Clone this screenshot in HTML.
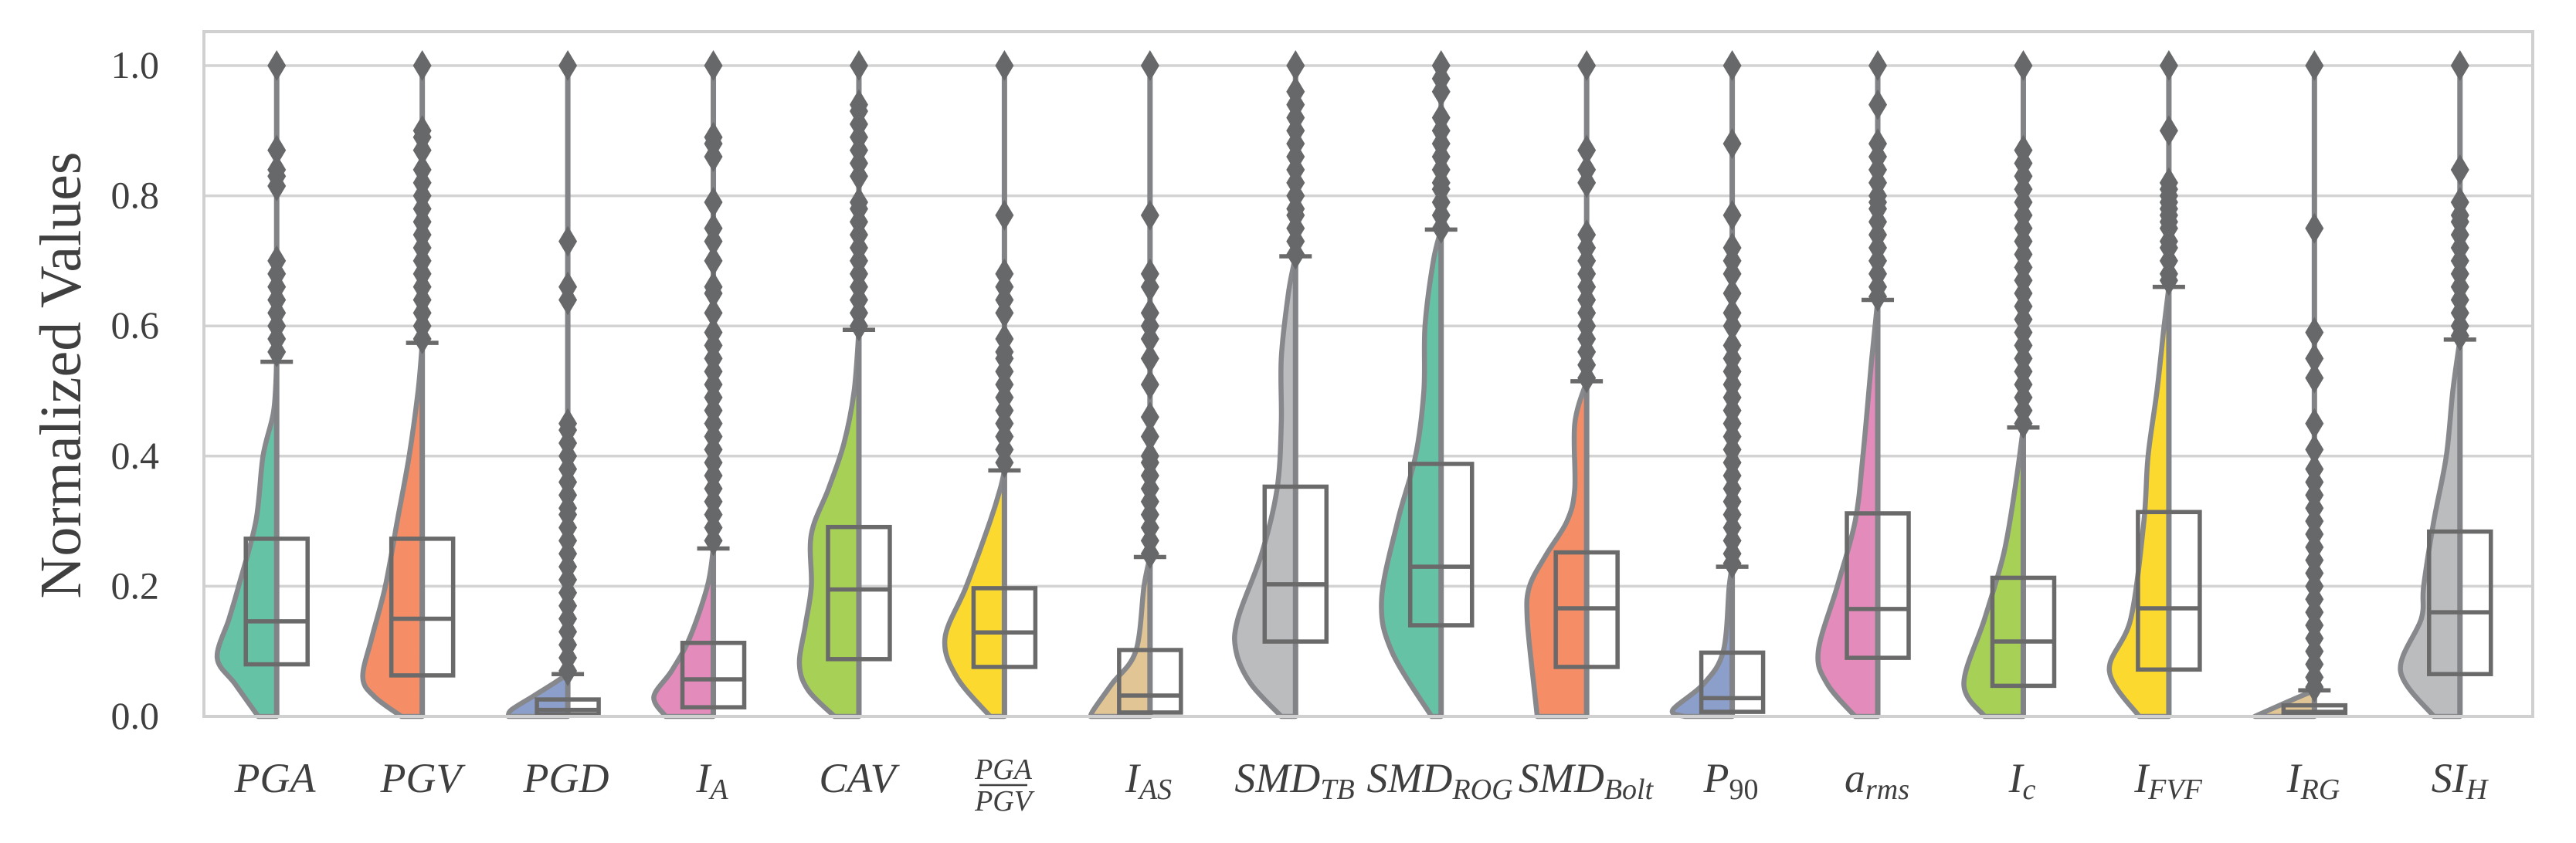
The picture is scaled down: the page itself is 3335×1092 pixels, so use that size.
<!DOCTYPE html>
<html><head><meta charset="utf-8">
<style>
html,body{margin:0;padding:0;background:#fff;}
svg{display:block;}
text{font-family:"Liberation Serif",serif;fill:#3f3f3f;}
</style></head>
<body>
<svg id="chart" width="3335" height="1092" viewBox="0 0 3335 1092" xmlns="http://www.w3.org/2000/svg">
<rect x="0" y="0" width="3335" height="1092" fill="#fff"/>
<g id="grid"></g>
<g id="marks"></g>
<rect x="264" y="41" width="3015" height="887" fill="none" stroke="#d0d0d0" stroke-width="4"/>
<g id="yticks"></g>
<text transform="translate(104,486) rotate(-90)" text-anchor="middle" font-size="76">Normalized Values</text>
<g id="xlabels" font-style="italic" font-size="54" text-anchor="middle">
  <text x="356" y="1026">PGA</text>
  <text x="545" y="1026">PGV</text>
  <text x="733" y="1026">PGD</text>
  <text x="922" y="1026">I<tspan font-size="38" dy="9">A</tspan></text>
  <text x="1110" y="1026">CAV</text>
  <g>
    <text x="1299" y="1009" font-size="38">PGA</text>
    <line x1="1268" y1="1017" x2="1330" y2="1017" stroke="#3f3f3f" stroke-width="2.5"/>
    <text x="1299" y="1050" font-size="38">PGV</text>
  </g>
  <text x="1487" y="1026">I<tspan font-size="38" dy="9">AS</tspan></text>
  <text x="1676" y="1026">SMD<tspan font-size="38" dy="9">TB</tspan></text>
  <text x="1864" y="1026">SMD<tspan font-size="38" dy="9">ROG</tspan></text>
  <text x="2053" y="1026">SMD<tspan font-size="38" dy="9">Bolt</tspan></text>
  <text x="2241" y="1026">P<tspan font-size="38" font-style="normal" dy="9">90</tspan></text>
  <text x="2430" y="1026">a<tspan font-size="38" dy="9">rms</tspan></text>
  <text x="2618" y="1026">I<tspan font-size="38" dy="9">c</tspan></text>
  <text x="2807" y="1026">I<tspan font-size="38" dy="9">FVF</tspan></text>
  <text x="2995" y="1026">I<tspan font-size="38" dy="9">RG</tspan></text>
  <text x="3184" y="1026">SI<tspan font-size="38" dy="9">H</tspan></text>
</g>
</svg>
<script>
const categories = ["PGA","PGV","PGD","IA","CAV","PGA/PGV","IAS","SMD_TB","SMD_ROG","SMD_Bolt","P90","a_rms","Ic","IFVF","IRG","SIH"];
const q1Values = [0.080,0.063,0.003,0.014,0.088,0.076,0.006,0.115,0.140,0.076,0.007,0.090,0.047,0.072,0.002,0.065];
const medianValues = [0.146,0.150,0.010,0.057,0.195,0.129,0.032,0.203,0.230,0.166,0.028,0.165,0.115,0.166,0.007,0.160];
const q3Values = [0.273,0.273,0.026,0.113,0.291,0.197,0.102,0.353,0.388,0.252,0.098,0.312,0.213,0.314,0.017,0.284];
const whiskerHigh = [0.545,0.574,0.065,0.258,0.594,0.378,0.245,0.707,0.748,0.515,0.230,0.640,0.444,0.660,0.040,0.579];
const fillColors = ["#66c2a5","#f58e66","#8c9fcb","#e38bba","#a7d057","#fbd92f","#e2c594","#bbbcbe","#66c2a5","#f58e66","#8c9fcb","#e38bba","#a7d057","#fbd92f","#e2c594","#bbbcbe"];
const densityLevels = [
 [0,0.05,0.09,0.15,0.2,0.3,0.4,0.47,0.545],
 [0,0.03,0.06,0.12,0.2,0.3,0.4,0.5,0.574],
 [0,0.01,0.03,0.05,0.065],
 [0,0.03,0.07,0.12,0.2,0.258],
 [0,0.04,0.08,0.14,0.2,0.28,0.35,0.42,0.5,0.594],
 [0,0.06,0.12,0.2,0.3,0.35,0.378],
 [0,0.01,0.05,0.1,0.2,0.245],
 [0,0.05,0.1,0.15,0.25,0.35,0.45,0.55,0.65,0.707],
 [0,0.1,0.18,0.3,0.4,0.5,0.6,0.7,0.748],
 [0,0.05,0.15,0.2,0.25,0.3,0.35,0.45,0.515],
 [0,0.01,0.05,0.1,0.2,0.23],
 [0,0.05,0.1,0.2,0.3,0.4,0.55,0.64],
 [0,0.05,0.15,0.25,0.35,0.444],
 [0,0.07,0.15,0.3,0.4,0.5,0.6,0.66],
 [0,0.02,0.04],
 [0,0.07,0.15,0.2,0.3,0.4,0.5,0.579]
];
const densityWidths = [
 [0.31,0.7,1.0,0.8,0.64,0.35,0.23,0.05,0],
 [0.35,0.8,1.0,0.85,0.62,0.42,0.22,0.07,0],
 [1.0,0.95,0.6,0.25,0],
 [0.8,1.0,0.7,0.4,0.1,0],
 [0.41,0.85,1.0,0.9,0.8,0.8,0.51,0.25,0.08,0],
 [0.24,0.8,1.0,0.64,0.24,0.07,0],
 [1.0,0.95,0.64,0.24,0.1,0],
 [0.24,0.75,1.0,0.97,0.57,0.31,0.24,0.24,0.12,0],
 [0.16,0.83,1.0,0.73,0.43,0.29,0.27,0.13,0],
 [0.83,0.89,1.0,0.96,0.67,0.33,0.2,0.2,0],
 [0.8,1.0,0.48,0.15,0.05,0],
 [0.38,0.85,1.0,0.68,0.38,0.25,0.1,0],
 [0.65,1.0,0.65,0.33,0.14,0],
 [0.5,1.0,0.64,0.42,0.35,0.2,0.08,0],
 [1.0,0.51,0],
 [0.44,1.0,0.65,0.61,0.44,0.23,0.12,0]
];
const outlierValues = [
 [0.56,0.58,0.60,0.62,0.64,0.66,0.68,0.70,0.815,0.83,0.84,0.87,1.0],
 [0.58,0.60,0.62,0.64,0.66,0.68,0.70,0.72,0.74,0.76,0.78,0.80,0.82,0.84,0.87,0.89,0.90,1.0],
 [0.07,0.09,0.11,0.13,0.15,0.17,0.19,0.21,0.23,0.25,0.27,0.29,0.31,0.32,0.34,0.36,0.38,0.40,0.42,0.44,0.45,0.64,0.66,0.73,1.0],
 [0.27,0.29,0.31,0.33,0.35,0.37,0.39,0.41,0.43,0.45,0.47,0.49,0.51,0.53,0.55,0.57,0.59,0.62,0.65,0.66,0.70,0.73,0.75,0.79,0.86,0.88,0.89,1.0],
 [0.60,0.62,0.64,0.66,0.68,0.70,0.72,0.74,0.76,0.78,0.79,0.83,0.85,0.87,0.89,0.91,0.93,0.94,1.0],
 [0.39,0.41,0.43,0.45,0.47,0.49,0.51,0.53,0.55,0.56,0.58,0.62,0.64,0.66,0.68,0.77,1.0],
 [0.25,0.27,0.29,0.31,0.33,0.35,0.37,0.39,0.40,0.43,0.46,0.51,0.55,0.58,0.60,0.62,0.66,0.68,0.77,1.0],
 [0.71,0.73,0.75,0.77,0.78,0.80,0.82,0.84,0.86,0.88,0.90,0.92,0.94,0.96,1.0],
 [0.75,0.77,0.79,0.81,0.82,0.84,0.86,0.88,0.90,0.92,0.96,0.98,1.0],
 [0.52,0.54,0.56,0.58,0.60,0.62,0.64,0.66,0.68,0.70,0.72,0.74,0.82,0.84,0.87,1.0],
 [0.235,0.25,0.27,0.29,0.31,0.33,0.35,0.37,0.39,0.41,0.43,0.45,0.47,0.49,0.51,0.53,0.55,0.57,0.60,0.62,0.65,0.68,0.70,0.72,0.77,0.88,1.0],
 [0.645,0.66,0.68,0.70,0.72,0.74,0.76,0.78,0.79,0.80,0.82,0.84,0.86,0.88,0.94,1.0],
 [0.45,0.47,0.49,0.51,0.53,0.55,0.57,0.59,0.61,0.63,0.65,0.67,0.69,0.71,0.73,0.75,0.77,0.79,0.81,0.83,0.85,0.87,1.0],
 [0.67,0.68,0.70,0.72,0.73,0.75,0.76,0.77,0.78,0.79,0.80,0.81,0.82,0.90,1.0],
 [0.045,0.06,0.08,0.10,0.12,0.14,0.16,0.18,0.20,0.22,0.24,0.26,0.28,0.30,0.32,0.34,0.36,0.38,0.41,0.45,0.52,0.55,0.59,0.75,1.0],
 [0.585,0.60,0.62,0.64,0.66,0.68,0.70,0.72,0.74,0.76,0.77,0.79,0.84,1.0]
];
const yTicks = [0,0.2,0.4,0.6,0.8,1.0];
const yTickLabels = ["0.0","0.2","0.4","0.6","0.8","1.0"];

const NS = "http://www.w3.org/2000/svg";
const plotL = 264, plotR = 3279, y0px = 928, y1px = 85;
const band = (plotR - plotL) / categories.length;
const maxHalf = 77, boxHalf = 40, capHalf = 21;
function yScale(v){ return y0px - v * (y0px - y1px); }
function xScale(i){ return plotL + (i + 0.5) * band; }
function mk(tag, attrs, parent){
  const el = document.createElementNS(NS, tag);
  for (const k in attrs) el.setAttribute(k, attrs[k]);
  parent.appendChild(el);
  return el;
}
const grid = document.getElementById("grid");
const yt = document.getElementById("yticks");
yTicks.forEach((t, i) => {
  if (t > 0) {
    const gl = mk("line", {x1: plotL, x2: plotR, y1: yScale(t), y2: yScale(t), stroke: "#d3d3d3", "stroke-width": 3.5}, grid);
    
    
  }
  const tx = mk("text", {x: 206, y: yScale(t) + 16, "text-anchor": "end", "font-size": 50}, yt);
  tx.textContent = yTickLabels[i];
  
  
});
function smoothPath(pts){
  let d = "";
  for (let i = 0; i < pts.length - 1; i++) {
    const p0 = pts[Math.max(0, i - 1)], p1 = pts[i], p2 = pts[i + 1], p3 = pts[Math.min(pts.length - 1, i + 2)];
    const c1x = p1[0] + (p2[0] - p0[0]) / 6, c1y = p1[1] + (p2[1] - p0[1]) / 6;
    const c2x = p2[0] - (p3[0] - p1[0]) / 6, c2y = p2[1] - (p3[1] - p1[1]) / 6;
    d += " C" + c1x.toFixed(1) + "," + c1y.toFixed(1) + " " + c2x.toFixed(1) + "," + c2y.toFixed(1) + " " + p2[0].toFixed(1) + "," + p2[1].toFixed(1);
  }
  return d;
}
const marks = document.getElementById("marks");
categories.forEach((c, i) => {
  const cx = xScale(i);
  const g = mk("g", {}, marks);
  
  
  const pts = densityLevels[i].map((v, k) => [cx - densityWidths[i][k] * maxHalf, yScale(v)]);
  let d = "M" + cx + "," + yScale(0) + " L" + pts[0][0].toFixed(1) + "," + pts[0][1].toFixed(1) + smoothPath(pts) + " Z";
  const vio = mk("path", {d: d, fill: fillColors[i], stroke: "#87888c", "stroke-width": 6.5, "stroke-linejoin": "round"}, g);
  
  
  const ov = outlierValues[i];
  const top = Math.max(whiskerHigh[i], ov.length ? Math.max(...ov) : 0);
  const ln = mk("line", {x1: cx, x2: cx, y1: yScale(0), y2: yScale(top), stroke: "#828387", "stroke-width": 7}, g);
  
  
  const bx = mk("rect", {x: cx - boxHalf, y: yScale(q3Values[i]), width: boxHalf * 2, height: yScale(q1Values[i]) - yScale(q3Values[i]), fill: "none", stroke: "#6a6a6a", "stroke-width": 5.5}, g);
  
  
  const md = mk("line", {x1: cx - boxHalf, x2: cx + boxHalf, y1: yScale(medianValues[i]), y2: yScale(medianValues[i]), stroke: "#6a6a6a", "stroke-width": 5.5}, g);
  
  
  const cap = mk("line", {x1: cx - capHalf, x2: cx + capHalf, y1: yScale(whiskerHigh[i]), y2: yScale(whiskerHigh[i]), stroke: "#6a6a6a", "stroke-width": 5.5}, g);
  
  
  ov.forEach(v => {
    const y = yScale(v);
    const dm = mk("path", {d: "M" + cx + "," + (y - 20) + " L" + (cx + 12) + "," + y + " L" + cx + "," + (y + 20) + " L" + (cx - 12) + "," + y + " Z", fill: "#67686a"}, g);
    
    
  });
});
</script>
</body></html>
